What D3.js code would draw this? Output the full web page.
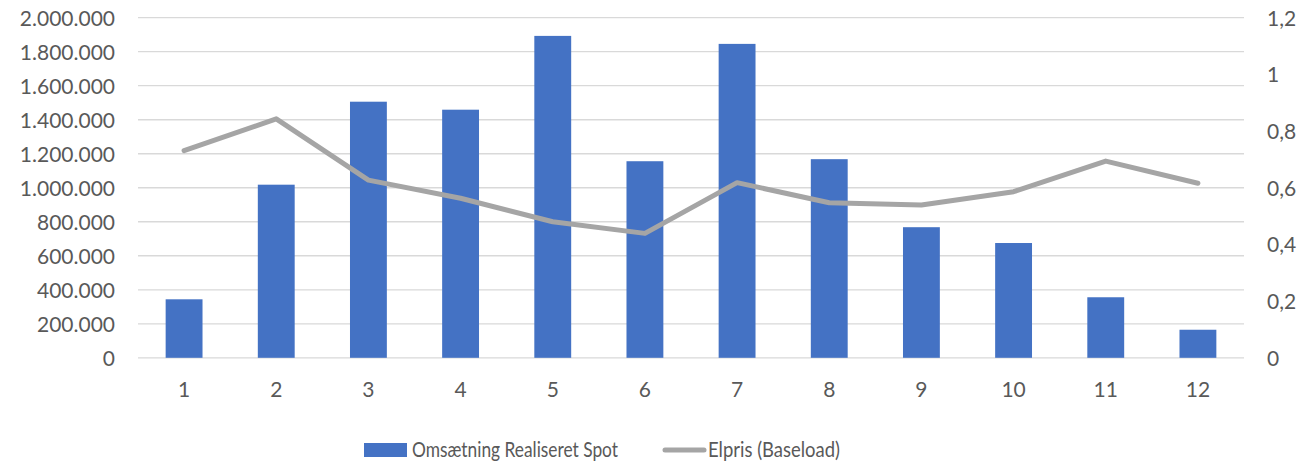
<!DOCTYPE html>
<html>
<head>
<meta charset="utf-8">
<script src="https://cdn.jsdelivr.net/npm/d3@7"></script>
<style>
  body { margin: 0; background: #fff; }
  text { font-family: Lato, "Open Sans", sans-serif; fill: #595959; }
</style>
</head>
<body>
<script>
const width = 1315;
const height = 463;

// data
const months = ["1", "2", "3", "4", "5", "6", "7", "8", "9", "10", "11", "12"];
const omsaetning = [344000, 1018000, 1506000, 1459000, 1893000, 1156000, 1846000, 1168000, 768000, 675000, 356000, 165000];
const elpris = [0.731, 0.843, 0.627, 0.563, 0.480, 0.439, 0.618, 0.547, 0.539, 0.586, 0.694, 0.616];
const leftTicks = [0, 200000, 400000, 600000, 800000, 1000000, 1200000, 1400000, 1600000, 1800000, 2000000];
const rightTicks = [0, 0.2, 0.4, 0.6, 0.8, 1, 1.2];

const plot = {left: 138, right: 1244, top: 17.7, bottom: 357.8};

let svg = d3.select("body").append("svg").attr("width", width).attr("height", height);

let x = d3.scaleBand().domain(months).range([plot.left, plot.right]).paddingInner(0.6).paddingOuter(0.3);
let yL = d3.scaleLinear().domain([0, 2000000]).range([plot.bottom, plot.top]);
let yR = d3.scaleLinear().domain([0, 1.2]).range([plot.bottom, plot.top]);

// number format with dots as thousands separator
const fmtL = d => d3.format(",")(d).replace(/,/g, ".");
const fmtR = d => String(d).replace(".", ",");

// gridlines
svg.append("g").selectAll("line")
    .data(leftTicks)
    .enter()
    .append("line")
    .attr("x1", plot.left).attr("x2", plot.right)
    .attr("y1", d => yL(d)).attr("y2", d => yL(d))
    .attr("stroke", "#D9D9D9")
    .attr("stroke-width", 1.3);

// left axis
let axL = svg.append("g").attr("transform", `translate(${plot.left - 23},0)`)
    .call(d3.axisLeft(yL).tickValues(leftTicks).tickFormat(fmtL).tickSize(0).tickPadding(0));
axL.select(".domain").remove();
axL.selectAll("text").style("font-size", "21px").attr("dy", "0.35em");

// right axis
let axR = svg.append("g").attr("transform", `translate(${plot.right + 23},0)`)
    .call(d3.axisRight(yR).tickValues(rightTicks).tickFormat(fmtR).tickSize(0).tickPadding(0));
axR.select(".domain").remove();
axR.selectAll("text").style("font-size", "21px").attr("dy", "0.35em");

// bars
svg.append("g").selectAll("rect")
    .data(omsaetning)
    .enter()
    .append("rect")
    .attr("x", (d, i) => x(months[i]))
    .attr("width", x.bandwidth())
    .attr("y", d => yL(d))
    .attr("height", d => plot.bottom - yL(d))
    .attr("fill", "#4472C4");

// bottom axis labels
let axB = svg.append("g").attr("transform", `translate(0,${plot.bottom})`)
    .call(d3.axisBottom(x).tickSize(0).tickPadding(24));
axB.select(".domain").remove();
axB.selectAll("text").style("font-size", "21px");

// price line
let line = d3.line()
    .x((d, i) => x(months[i]) + x.bandwidth() / 2)
    .y(d => yR(d));
svg.append("path")
    .datum(elpris)
    .attr("d", line)
    .attr("fill", "none")
    .attr("stroke", "#A5A5A5")
    .attr("stroke-width", 5)
    .attr("stroke-linecap", "round")
    .attr("stroke-linejoin", "round");

// legend
let legend = svg.append("g");
legend.append("rect").attr("x", 364).attr("y", 443).attr("width", 43).attr("height", 14).attr("fill", "#4472C4");
legend.append("text").attr("x", 412).attr("y", 457).style("font-size", "22px")
    .attr("textLength", 206).attr("lengthAdjust", "spacingAndGlyphs")
    .text("Omsætning Realiseret Spot");
legend.append("line").attr("x1", 665).attr("x2", 704).attr("y1", 450).attr("y2", 450)
    .attr("stroke", "#A5A5A5").attr("stroke-width", 5).attr("stroke-linecap", "round");
legend.append("text").attr("x", 708).attr("y", 457).style("font-size", "22px")
    .attr("textLength", 132).attr("lengthAdjust", "spacingAndGlyphs")
    .text("Elpris (Baseload)");
</script>
</body>
</html>
